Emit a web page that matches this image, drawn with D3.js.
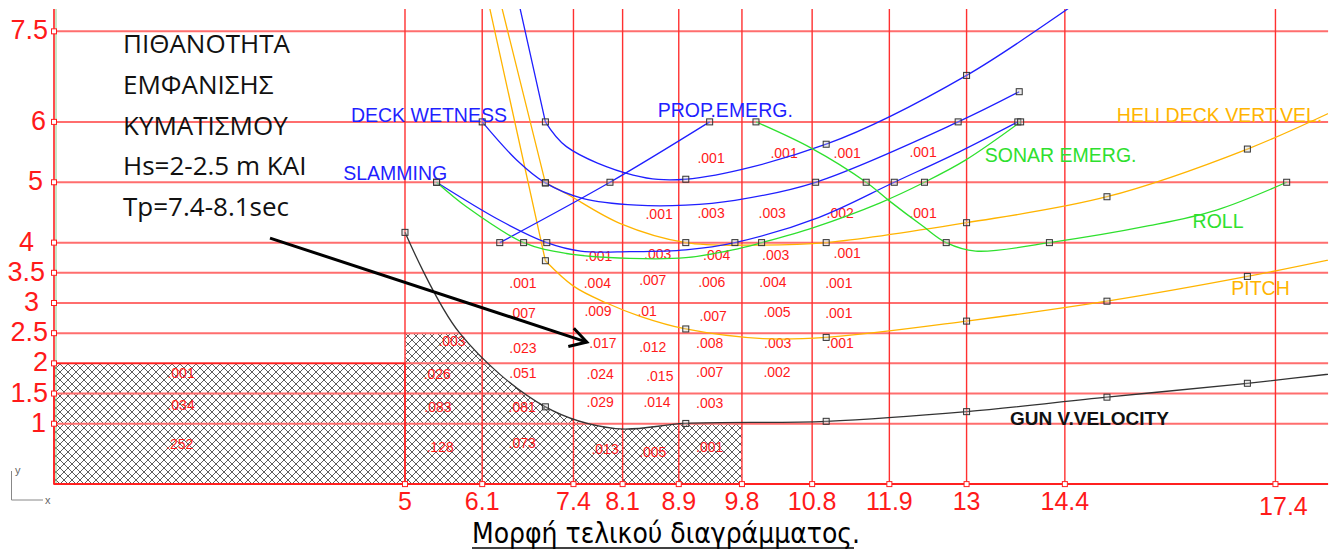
<!DOCTYPE html>
<html>
<head>
<meta charset="utf-8">
<script src="https://cdn.jsdelivr.net/npm/d3@7"></script>
<style>
  body { margin: 0; background: #fff; }
</style>
</head>
<body>
<script>
// grid values (period Tp on x, height Hs on y)
var xTicks = [5, 6.1, 7.4, 8.1, 8.9, 9.8, 10.8, 11.9, 13, 14.4, 17.4];
var yTicks = [1, 1.5, 2, 2.5, 3, 3.5, 4, 5, 6, 7.5];

// curves: [Tp, Hs, marker?]
var gunPts = [[5,4.17,1],[5.78,2.5,0],[7,1.28,1],[8,0.92,0],[9,1.005,1],[11,1.04,1],[13,1.2,1],[15,1.44,1],[17,1.67,1],[18.6,1.88,0]];
var pitchPts = [[6.09,8.5,0],[7,3.70,1],[7.4,3.28,0],[7.87,3.0,0],[8.35,2.78,0],[9,2.57,1],[10.1,2.41,0],[11,2.43,1],[13,2.70,1],[15,3.03,1],[17,3.44,1],[18.6,3.82,0]];
var heliPts = [[6.25,8.5,0],[7,4.99,1],[7.3,4.81,0],[8.06,4.32,0],[9,4.0,1],[10.05,3.96,0],[11,4.0,1],[13,4.33,1],[15,4.76,1],[17,5.55,1],[18.5,6.33,0]];
var deckTopPts = [[6.52,8.5,0],[7,6.0,1],[7.3,5.59,0],[8.25,5.12,0],[9,5.05,1],[11,5.63,1],[13,6.77,1],[14.9,8.25,0]];
var deckPts = [[6.1,6.0,1],[6.59,5.37,0],[7,4.99,1],[7.54,4.73,0],[8.3,4.62,0],[9.0,4.62,0],[9.7,4.7,0],[10.85,5.0,1],[12.88,6.0,1],[13.75,6.5,1]];
var slamPts = [[5.45,5.0,1],[6.35,4.37,0],[7.02,4.0,1],[7.5,3.86,0],[8.2,3.85,0],[9.0,3.88,0],[9.7,4.0,1],[10.9,4.42,0],[11.97,5.0,1],[12.89,5.5,0],[13.73,6.0,1]];
var propPts = [[6.35,4.0,1],[7.92,5.0,1],[9.34,6.0,1]];
var sonarPts = [[5.45,5.0,1],[5.88,4.59,0],[6.69,4.0,1],[7.3,3.82,0],[8.2,3.74,0],[9.0,3.75,0],[9.67,3.88,0],[10.08,4.0,1],[10.82,4.25,0],[11.77,4.66,0],[12.4,5.0,1],[12.99,5.37,0],[13.77,6.0,1]];
var rollPts = [[10.0,6.0,1],[10.78,5.57,0],[11.57,5.0,1],[11.89,4.70,0],[12.38,4.27,0],[12.71,4.0,1],[13.13,3.86,0],[14.18,4.0,1],[15.6,4.28,0],[16.56,4.54,0],[17.56,5.0,1]];

// probabilities written in the cells: [Tp, Hs, text]
var cells = [
  [9.36,5.40,".001"],[10.40,5.48,".001"],[11.30,5.48,".001"],[12.38,5.50,".001"],
  [8.62,4.47,".001"],[9.36,4.49,".003"],[10.23,4.49,".003"],[11.20,4.49,".002"],[12.38,4.49,".001"],
  [7.76,3.78,".001"],[8.60,3.81,".003"],[9.44,3.79,".004"],[10.28,3.79,".003"],[11.30,3.82,".001"],
  [6.68,3.33,".001"],[7.74,3.33,".004"],[8.53,3.38,".007"],[9.37,3.35,".006"],[10.24,3.35,".004"],[11.18,3.33,".001"],
  [6.67,2.83,".007"],[7.75,2.87,".009"],[8.45,2.87,".01"],[9.39,2.78,".007"],[10.30,2.85,".005"],[11.18,2.83,".001"],
  [5.67,2.37,".003"],[6.68,2.25,".023"],[7.82,2.34,".017"],[8.53,2.27,".012"],[9.34,2.34,".008"],[10.31,2.34,".003"],[11.20,2.34,".001"],
  [1.81,1.84,".001"],[5.46,1.82,".026"],[6.68,1.84,".051"],[7.78,1.82,".024"],[8.63,1.79,".015"],[9.34,1.86,".007"],[10.30,1.86,".002"],
  [1.81,1.31,".034"],[5.47,1.28,".083"],[6.67,1.28,".081"],[7.78,1.36,".029"],[8.59,1.36,".014"],[9.34,1.34,".003"],
  [1.79,0.66,".252"],[5.50,0.61,".128"],[6.67,0.68,".073"],[7.85,0.58,".013"],[8.53,0.53,".005"],[9.34,0.61,".001"]
];

var noteLines = ["ΠΙΘΑΝΟΤΗΤΑ", "ΕΜΦΑΝΙΣΗΣ", "ΚΥΜΑΤΙΣΜΟΥ", "Hs=2-2.5 m ΚΑΙ", "Tp=7.4-8.1sec"];
var caption = "Μορφή τελικού διαγράμματος.";

// the axis labels of the drawing are not lined up
var yLabelShift = { 6: -2, 5: -5, 4: -14, 3.5: -3, 3: -9, 2: 0, 1: -2 };
var xLabelShift = { 17.4: [8, 5] };

var blue = "#1f1fff", green = "#2ee02e", orange = "#ffb400";
var series = [
  { pts: gunPts,     color: "#333",  label: "GUN V.VELOCITY",      lx: 13.62, ly: 0.98, bold: true },
  { pts: pitchPts,   color: orange,  label: "PITCH",               lx: 16.77, ly: 3.13, lead: true },
  { pts: heliPts,    color: orange,  label: "HELI DECK VERT.VEL.", lx: 15.14, ly: 5.99, lead: true },
  { pts: deckTopPts, color: blue,    lead: true },
  { pts: deckPts,    color: blue,    label: "DECK WETNESS",        lx: 4.23,  ly: 6.0 },
  { pts: slamPts,    color: blue,    label: "SLAMMING",            lx: 4.12,  ly: 5.03 },
  { pts: propPts,    color: blue,    label: "PROP.EMERG.",         lx: 8.60,  ly: 6.08 },
  { pts: sonarPts,   color: green,   label: "SONAR EMERG.",        lx: 13.26, ly: 5.33 },
  { pts: rollPts,    color: green,   label: "ROLL",                lx: 16.22, ly: 4.24 }
];

var W = 1338, H = 553;
var svg = d3.select("body").append("svg")
  .attr("width", W).attr("height", H)
  .style("font-family", "'Liberation Sans', Arial, sans-serif");

var x = d3.scaleLinear().domain([0, 18.15]).range([54, 1328.1]);
var y = d3.scaleLinear().domain([0, 7.87]).range([484.1, 9]);

var defs = svg.append("defs");
defs.append("clipPath").attr("id", "plot")
  .append("rect")
  .attr("x", x(0)).attr("y", y(7.87))
  .attr("width", x(18.15) - x(0)).attr("height", y(0) - y(7.87));
defs.append("clipPath").attr("id", "hatchClip")
  .append("rect")
  .attr("x", x(5)).attr("y", y(2.5))
  .attr("width", x(9.8) - x(5)).attr("height", y(0) - y(2.5));

var pat = defs.append("pattern").attr("id", "hatch")
  .attr("patternUnits", "userSpaceOnUse")
  .attr("width", 8).attr("height", 8);
pat.append("path")
  .attr("d", "M0,0L8,8M8,0L0,8")
  .attr("stroke", "#333").attr("stroke-width", 0.8).attr("fill", "none");

var curve = d3.curveCatmullRom.alpha(0.5);
var line = d3.line().x(function (d) { return x(d[0]); })
  .y(function (d) { return y(d[1]); }).curve(curve);
var straight = d3.line().x(function (d) { return x(d[0]); })
  .y(function (d) { return y(d[1]); });

// hatched zone
svg.append("rect")
  .attr("x", x(0)).attr("y", y(2))
  .attr("width", x(5) - x(0)).attr("height", y(0) - y(2))
  .attr("fill", "url(#hatch)");
svg.append("path")
  .datum(gunPts)
  .attr("clip-path", "url(#hatchClip)")
  .attr("fill", "url(#hatch)")
  .attr("d", d3.area().x(function (d) { return x(d[0]); })
    .y0(y(0)).y1(function (d) { return y(d[1]); }).curve(curve));

// grid
svg.selectAll("line.hgrid").data(yTicks).enter().append("line")
  .attr("class", "hgrid")
  .attr("x1", x(0)).attr("x2", x(18.15))
  .attr("y1", function (d) { return y(d); }).attr("y2", function (d) { return y(d); })
  .attr("stroke", "#ff6e6e").attr("stroke-width", 2);
svg.selectAll("line.vgrid").data(xTicks).enter().append("line")
  .attr("class", "vgrid")
  .attr("x1", function (d) { return x(d); }).attr("x2", function (d) { return x(d); })
  .attr("y1", y(7.87)).attr("y2", y(0))
  .attr("stroke", "#ff3030").attr("stroke-width", 1.4);

svg.append("rect")
  .attr("x", x(0)).attr("y", y(2))
  .attr("width", x(5) - x(0)).attr("height", y(0) - y(2))
  .attr("fill", "none").attr("stroke", "#ff2020").attr("stroke-width", 1.5);

// axes
svg.append("line").attr("x1", x(0) + 2).attr("x2", x(0) + 2)
  .attr("y1", y(7.87)).attr("y2", y(0))
  .attr("stroke", "#8fd08f").attr("stroke-width", 1);
svg.append("line").attr("x1", x(0)).attr("x2", x(0))
  .attr("y1", y(7.87)).attr("y2", y(0))
  .attr("stroke", "#ff2020").attr("stroke-width", 1.6);
svg.append("line").attr("x1", x(0)).attr("x2", x(18.15))
  .attr("y1", y(0)).attr("y2", y(0))
  .attr("stroke", "#ff2020").attr("stroke-width", 2);

svg.selectAll("rect.ytick").data(yTicks).enter().append("rect")
  .attr("x", x(0) - 2.5).attr("y", function (d) { return y(d) - 2.5; })
  .attr("width", 5).attr("height", 5)
  .attr("fill", "#fff").attr("stroke", "#ff2020");
svg.selectAll("rect.xtick").data(xTicks).enter().append("rect")
  .attr("x", function (d) { return x(d) - 2.5; }).attr("y", y(0) - 2.5)
  .attr("width", 5).attr("height", 5)
  .attr("fill", "#fff").attr("stroke", "#ff2020");

svg.selectAll("text.ylab").data(yTicks).enter().append("text")
  .attr("x", function (d) { return 48 + (yLabelShift[d] || 0); })
  .attr("y", function (d) { return y(d) + 8; })
  .attr("text-anchor", "end").attr("font-size", 27).attr("fill", "#ff1a1a")
  .text(function (d) { return d; });
svg.selectAll("text.xlab").data(xTicks).enter().append("text")
  .attr("x", function (d) { return x(d) + (xLabelShift[d] ? xLabelShift[d][0] : 0); })
  .attr("y", function (d) { return 510 + (xLabelShift[d] ? xLabelShift[d][1] : 0); })
  .attr("text-anchor", "middle").attr("font-size", 25).attr("fill", "#ff1a1a")
  .text(function (d) { return d; });

// cell probabilities
svg.selectAll("text.cell").data(cells).enter().append("text")
  .attr("x", function (d) { return x(d[0]); })
  .attr("y", function (d) { return y(d[1]); })
  .attr("dy", "0.35em").attr("text-anchor", "middle")
  .attr("font-size", 14).attr("fill", "#ff1a1a")
  .text(function (d) { return d[2]; });

// curves (some come in as a straight stroke from above the frame)
var plot = svg.append("g").attr("clip-path", "url(#plot)");
series.forEach(function (s) {
  var d = s.lead ? straight(s.pts.slice(0, 2)) + line(s.pts.slice(1)) : line(s.pts);
  plot.append("path")
    .attr("d", d)
    .attr("fill", "none")
    .attr("stroke", s.color).attr("stroke-width", 1.3);
});
series.forEach(function (s) {
  svg.selectAll(null)
    .data(s.pts.filter(function (d) { return d[2] === 1; }))
    .enter().append("rect")
    .attr("x", function (d) { return x(d[0]) - 3; })
    .attr("y", function (d) { return y(d[1]) - 3; })
    .attr("width", 6).attr("height", 6)
    .attr("fill", "#c8c8c8").attr("fill-opacity", 0.35)
    .attr("stroke", "#333").attr("stroke-width", 1);
  if (s.label) {
    svg.append("text")
      .attr("x", x(s.lx)).attr("y", y(s.ly))
      .attr("font-size", s.bold ? 19 : 19.5)
      .attr("font-weight", s.bold ? "bold" : "normal")
      .attr("fill", s.bold ? "#111" : s.color)
      .text(s.label);
  }
});

// note and arrow
svg.selectAll("text.note").data(noteLines).enter().append("text")
  .attr("x", 123).attr("y", function (d, i) { return 53 + i * 40.8; })
  .attr("font-family", "'Open Sans', 'Noto Sans', sans-serif")
  .attr("font-size", 26).attr("fill", "#111")
  .text(function (d) { return d; });

var a0 = [x(3.077), y(4.075)], a1 = [x(7.59), y(2.353)];
var ang = Math.atan2(a1[1] - a0[1], a1[0] - a0[0]);
svg.append("line")
  .attr("x1", a0[0]).attr("y1", a0[1]).attr("x2", a1[0]).attr("y2", a1[1])
  .attr("stroke", "#000").attr("stroke-width", 3);
svg.append("path")
  .attr("d", "M" + (a1[0] - 19 * Math.cos(ang - 0.55)) + "," + (a1[1] - 19 * Math.sin(ang - 0.55)) +
    "L" + a1[0] + "," + a1[1] +
    "L" + (a1[0] - 19 * Math.cos(ang + 0.5)) + "," + (a1[1] - 19 * Math.sin(ang + 0.5)))
  .attr("fill", "none").attr("stroke", "#000").attr("stroke-width", 3)
  .attr("stroke-linejoin", "miter");

// small xy icon
svg.append("path").attr("d", "M11.5,471V500H43")
  .attr("fill", "none").attr("stroke", "#888").attr("stroke-width", 1);
svg.append("text").attr("x", 15).attr("y", 474).attr("font-size", 11).attr("fill", "#666").text("y");
svg.append("text").attr("x", 45).attr("y", 504).attr("font-size", 11).attr("fill", "#666").text("x");

// caption
svg.append("text")
  .attr("x", 472).attr("y", 543)
  .attr("font-family", "'Liberation Sans Narrow', 'DejaVu Sans Condensed', sans-serif")
  .attr("font-size", 28).attr("fill", "#000")
  .attr("textLength", 388).attr("lengthAdjust", "spacingAndGlyphs")
  .text(caption);
svg.append("line").attr("x1", 472).attr("x2", 854).attr("y1", 548).attr("y2", 548)
  .attr("stroke", "#000").attr("stroke-width", 1.5);
</script>
</body>
</html>
